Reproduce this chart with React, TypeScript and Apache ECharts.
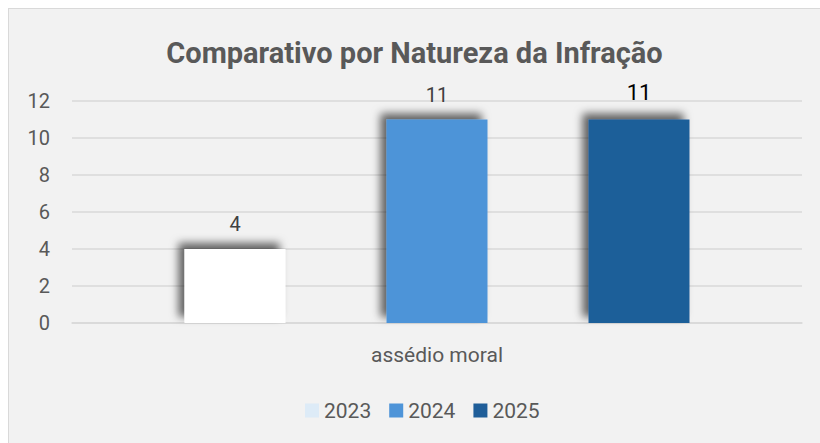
import React, { useEffect, useRef } from "react";
import * as echarts from "echarts";

const categories = ["assédio moral"];
const years = ["2023", "2024", "2025"];
const values2023 = [4];
const values2024 = [11];
const values2025 = [11];
const yTicks = [0, 2, 4, 6, 8, 10, 12];

export default function App() {
  const ref = useRef<HTMLDivElement>(null);
  useEffect(() => {
    if (!ref.current) return;
    document.documentElement.style.overflow = "hidden";
    const chart = echarts.init(ref.current, undefined, { renderer: "svg" });
    const shadow = {
      shadowBlur: 8,
      shadowOffsetX: -6,
      shadowOffsetY: -6,
      shadowColor: "rgba(0,0,0,0.6)",
    };
    const font = "Roboto, 'Liberation Sans', sans-serif";
    const noShadow = { shadowBlur: 0, shadowOffsetX: 0, shadowOffsetY: 0 };
    chart.setOption({
      animation: false,
      backgroundColor: "#f2f2f2",
      textStyle: { fontFamily: font },
      title: {
        text: "Comparativo por Natureza da Infração",
        left: "center",
        top: 24,
        textStyle: { fontFamily: font, fontSize: 29, fontWeight: "bold", color: "#595959" },
      },
      legend: {
        left: 291,
        top: 386,
        itemWidth: 14,
        itemHeight: 14,
        itemGap: 18,
        textStyle: { fontFamily: font, fontSize: 21, color: "#595959" },
        data: [
          { name: years[0], icon: "rect", itemStyle: { color: "#ddebf7", ...noShadow } },
          { name: years[1], icon: "rect", itemStyle: noShadow },
          { name: years[2], icon: "rect", itemStyle: noShadow },
        ],
      },
      grid: { left: 63, right: 18, top: 92, bottom: 120 },
      xAxis: {
        type: "category",
        data: categories,
        axisLine: { show: true, lineStyle: { color: "#d9d9d9", width: 1.5 } },
        axisTick: { show: false },
        axisLabel: { fontFamily: font, fontSize: 21, color: "#595959", margin: 21 },
      },
      yAxis: {
        type: "value",
        min: yTicks[0],
        max: yTicks[yTicks.length - 1],
        interval: 2,
        axisLine: { show: false },
        axisTick: { show: false },
        splitLine: { lineStyle: { color: "#d9d9d9", width: 1.5 } },
        axisLabel: { fontFamily: font, fontSize: 20, color: "#595959", margin: 22 },
      },
      series: [
        {
          name: years[0],
          type: "bar",
          data: values2023,
          barWidth: 101,
          barGap: "100%",
          itemStyle: { color: "#ffffff", ...shadow },
          label: { show: true, position: "top", distance: 15, fontFamily: font, fontSize: 20, color: "#404040" },
        },
        {
          name: years[1],
          type: "bar",
          data: values2024,
          barWidth: 101,
          barGap: "100%",
          itemStyle: { color: "#4e94d8", ...shadow },
          label: { show: true, position: "top", distance: 15, fontFamily: font, fontSize: 20, color: "#404040" },
        },
        {
          name: years[2],
          type: "bar",
          data: values2025,
          barWidth: 101,
          barGap: "100%",
          itemStyle: { color: "#1f5e99", ...shadow },
          label: { show: true, position: "top", distance: 16, fontFamily: font, fontSize: 22, color: "#000000" },
        },
      ],
    });
    return () => chart.dispose();
  }, []);
  return (
    <div
      ref={ref}
      style={{
        position: "fixed",
        left: 8,
        top: 8,
        right: 0,
        bottom: 0,
        borderLeft: "1px solid #d9d9d9",
        borderTop: "1px solid #d9d9d9",
      }}
    />
  );
}
